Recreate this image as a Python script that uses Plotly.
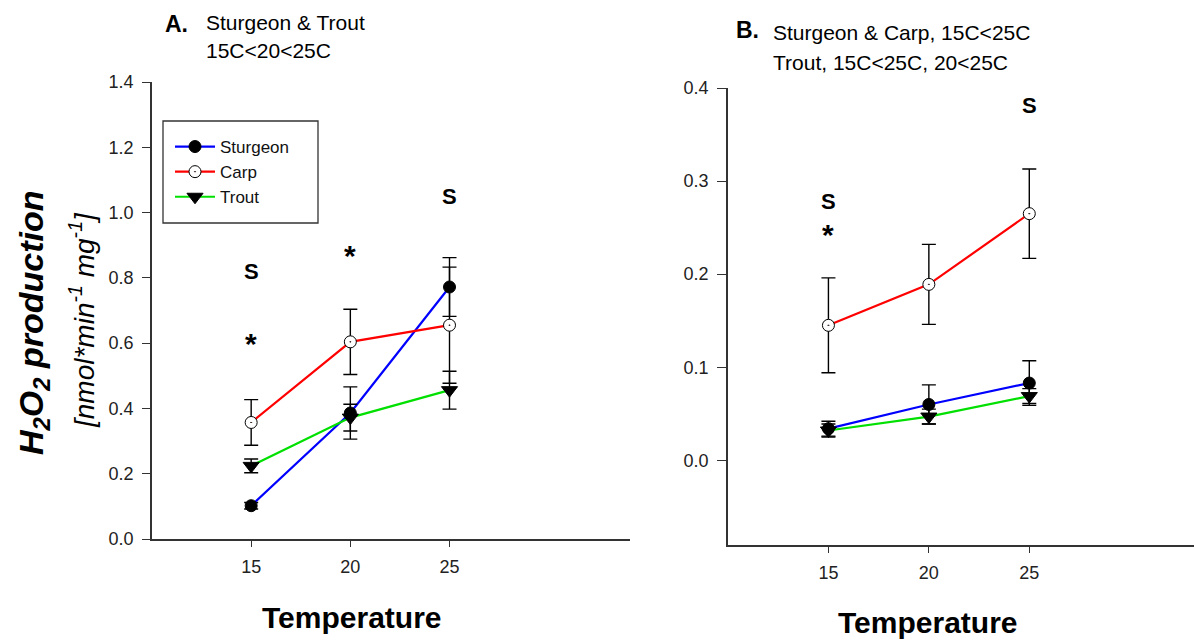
import plotly.graph_objects as go

temps = [15, 20, 25]

# Panel A
a_sturgeon = [0.102, 0.386, 0.772]
a_sturgeon_err = [0.010, 0.080, 0.090]
a_carp = [0.357, 0.604, 0.655]
a_carp_err = [0.070, 0.100, 0.178]
a_trout = [0.224, 0.372, 0.456]
a_trout_err = [0.021, 0.041, 0.058]

# Panel B
b_sturgeon = [0.034, 0.060, 0.083]
b_sturgeon_err = [0.008, 0.021, 0.024]
b_carp = [0.145, 0.189, 0.265]
b_carp_err = [0.051, 0.043, 0.048]
b_trout = [0.032, 0.047, 0.069]
b_trout_err = [0.007, 0.008, 0.008]

a_yticks = [0.0, 0.2, 0.4, 0.6, 0.8, 1.0, 1.2, 1.4]
b_yticks = [0.0, 0.1, 0.2, 0.3, 0.4]

FONT = "Arial, Liberation Sans, sans-serif"
AX = "#333333"

series = [
    ("Sturgeon", "#0000ff", dict(symbol="circle", size=12, color="black", line=dict(color="black", width=1))),
    ("Carp", "#ff0000", dict(symbol="circle-dot", size=12, color="white", line=dict(color="black", width=1))),
    ("Trout", "#00e000", dict(symbol="triangle-down", size=14, color="black", line=dict(color="black", width=1))),
]
a_data = {"Sturgeon": (a_sturgeon, a_sturgeon_err), "Carp": (a_carp, a_carp_err), "Trout": (a_trout, a_trout_err)}
b_data = {"Sturgeon": (b_sturgeon, b_sturgeon_err), "Carp": (b_carp, b_carp_err), "Trout": (b_trout, b_trout_err)}

fig = go.Figure()
for name, col, mk in series:
    y, e = a_data[name]
    fig.add_trace(go.Scatter(
        x=temps, y=y, name=name, mode="lines+markers",
        line=dict(color=col, width=2.2), marker=mk,
        error_y=dict(type="data", array=e, color="black", thickness=1.4, width=7),
        xaxis="x", yaxis="y", showlegend=True))
for name, col, mk in series:
    y, e = b_data[name]
    fig.add_trace(go.Scatter(
        x=temps, y=y, name=name, mode="lines+markers",
        line=dict(color=col, width=2.2), marker=mk,
        error_y=dict(type="data", array=e, color="black", thickness=1.4, width=7),
        xaxis="x2", yaxis="y2", showlegend=False))

H = 642
W = 1194

def axcommon():
    return dict(showline=True, linecolor=AX, linewidth=1.5, ticks="outside",
                tickcolor=AX, tickwidth=1.2, showgrid=False, zeroline=False,
                automargin=False,
                tickfont=dict(family=FONT, size=18, color="#222"))

def px(xp, yp):
    return xp / W, (H - yp) / H

lx0, ly0 = px(163, 121)
lx1, ly1 = px(318, 223)

fig.update_layout(
    width=W, height=H, margin=dict(l=0, r=0, t=0, b=0, autoexpand=False),
    paper_bgcolor="white", plot_bgcolor="white",
    font=dict(family=FONT, color="black"),
    hovermode=False,
    xaxis=dict(domain=[152 / W, 630 / W], range=[10, 34.1], tickvals=temps,
               ticklen=6, ticklabelstandoff=5, anchor="y", **axcommon()),
    yaxis=dict(domain=[(H - 539) / H, (H - 82) / H], range=[0, 1.4], tickvals=a_yticks,
               tickformat=".1f", ticklen=8, ticklabelstandoff=5, anchor="x", **axcommon()),
    xaxis2=dict(domain=[728 / W, 1.0], range=[10, 33.2], tickvals=temps,
                ticklen=6, ticklabelstandoff=5, anchor="y2", **axcommon()),
    yaxis2=dict(domain=[(H - 545) / H, (H - 88) / H], range=[-0.091, 0.4], tickvals=b_yticks,
                tickformat=".1f", ticklen=9, ticklabelstandoff=5, anchor="x2", **axcommon()),
    legend=dict(x=170 / W, y=(H - 129) / H, xanchor="left", yanchor="top",
                bgcolor="rgba(0,0,0,0)", borderwidth=0,
                font=dict(family=FONT, size=17, color="#111"),
                tracegroupgap=0, itemwidth=40),
    shapes=[dict(type="rect", xref="paper", yref="paper", x0=lx0, y0=ly1, x1=lx1, y1=ly0,
                 line=dict(color="#333", width=1.3), fillcolor="white", layer="below")],
)

ann = []
def txt(x, y, text, size, bold=False, italic=False, xanchor="center", angle=0, xref="paper", yref="paper"):
    t = text
    if bold:
        t = "<b>" + t + "</b>"
    if italic:
        t = "<i>" + t + "</i>"
    ann.append(dict(x=x, y=y, xref=xref, yref=yref, text=t, showarrow=False,
                    xanchor=xanchor, yanchor="middle", textangle=angle,
                    font=dict(family=FONT, size=size, color="black")))

# Titles
x, y = px(176, 24); txt(x, y, "A.", 23, bold=True)
x, y = px(204, 22); txt(x, y, "Sturgeon &amp; Trout", 21, xanchor="left")
x, y = px(204, 51); txt(x, y, "15C&lt;20&lt;25C", 21, xanchor="left")
x, y = px(747, 30); txt(x, y, "B.", 23, bold=True)
x, y = px(771, 33); txt(x, y, "Sturgeon &amp; Carp, 15C&lt;25C", 21, xanchor="left")
x, y = px(771, 62); txt(x, y, "Trout, 15C&lt;25C, 20&lt;25C", 21, xanchor="left")

# Axis titles
x, y = px(352, 617); txt(x, y, "Temperature", 30, bold=True)
x, y = px(928, 622); txt(x, y, "Temperature", 30, bold=True)
x, y = px(33, 323); txt(x, y, "H<sub>2</sub>O<sub>2</sub> production", 34, bold=True, italic=True, angle=-90)
x, y = px(82, 320); txt(x, y, "[nmol*min<sup>-1</sup> mg<sup>-1</sup>]", 28, italic=True, angle=-90)

# Significance marks (data coordinates)
for xx, yy, t, s in [(15, 0.82, "S", 22), (15, 0.60, "*", 30), (20, 0.87, "*", 30), (25, 1.05, "S", 22)]:
    ann.append(dict(x=xx, y=yy, xref="x", yref="y", text="<b>" + t + "</b>", showarrow=False,
                    font=dict(family=FONT, size=s, color="black")))
for xx, yy, t, s in [(15, 0.278, "S", 22), (15, 0.243, "*", 30), (25, 0.381, "S", 22)]:
    ann.append(dict(x=xx, y=yy, xref="x2", yref="y2", text="<b>" + t + "</b>", showarrow=False,
                    font=dict(family=FONT, size=s, color="black")))

fig.update_layout(annotations=ann)
fig.write_html("out.html", config={"displayModeBar": False},
               post_script="document.body.style.margin='0';document.body.style.padding='0';document.body.style.overflow='hidden';")
